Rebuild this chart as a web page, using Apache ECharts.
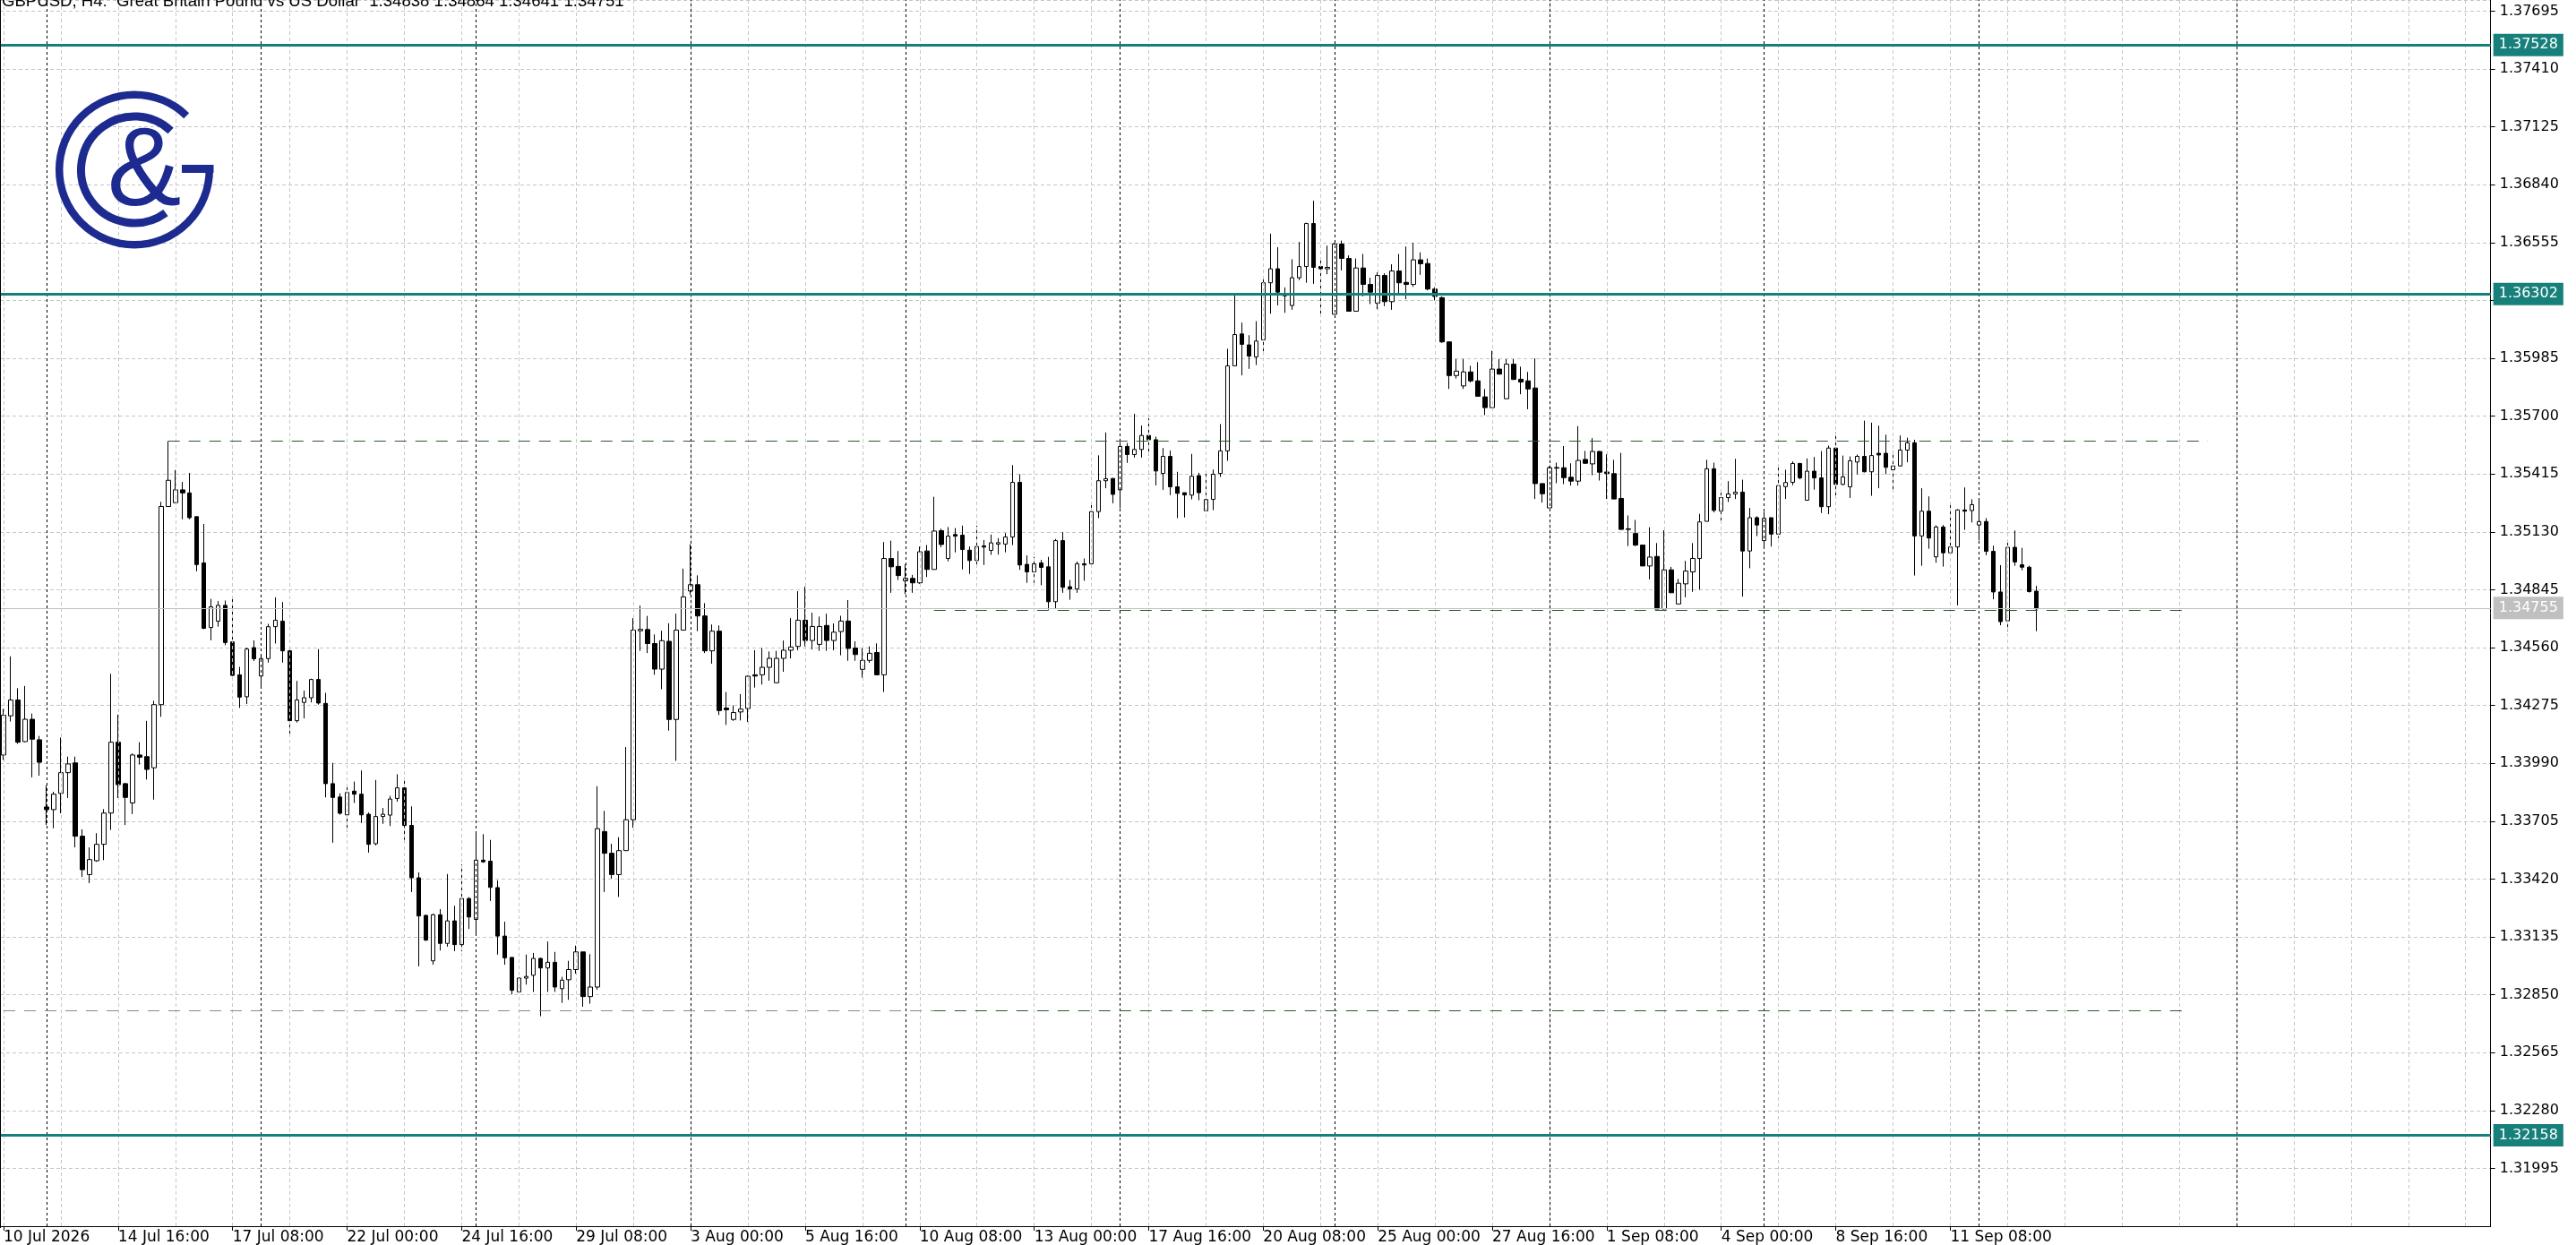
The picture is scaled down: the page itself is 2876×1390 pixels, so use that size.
<!DOCTYPE html>
<html><head><meta charset="utf-8">
<script src="https://cdn.jsdelivr.net/npm/echarts@6/dist/echarts.min.js"></script>
<style>html,body{margin:0;padding:0;background:#fff;overflow:hidden}#c{width:2876px;height:1390px}</style>
</head><body><div id="c"></div>
<script>
// ---- data (H4 bars, GBPUSD) ----
const opens = [
1.34031,1.34224,1.34302,1.34097,1.34207,1.34106,1.33775,1.33762,1.33842,1.33944,
1.33992,1.33631,1.33442,1.33510,1.33591,1.33745,1.34094,1.33890,1.33795,1.34031,
1.34023,1.33968,1.34279,1.35255,1.35274,1.35337,1.35322,1.35205,1.34977,1.34659,
1.34690,1.34768,1.34588,1.34426,1.34318,1.34560,1.34420,1.34506,1.34663,1.34690,
1.34544,1.34200,1.34290,1.34313,1.34403,1.34285,1.33890,1.33824,1.33736,1.33853,
1.33838,1.33739,1.33594,1.33728,1.33735,1.33817,1.33869,1.33684,1.33426,1.33241,
1.33017,1.33244,1.33103,1.33214,1.33097,1.33324,1.33221,1.33513,1.33508,1.33378,
1.33139,1.33034,1.32864,1.32932,1.32946,1.33029,1.32982,1.33010,1.32880,1.32924,
1.32974,1.33061,1.32841,1.32888,1.33654,1.33547,1.33442,1.33560,1.33712,1.34643,
1.34649,1.34580,1.34454,1.34591,1.34206,1.34646,1.34839,1.34870,1.34716,1.34544,
1.34641,1.34262,1.34206,1.34243,1.34260,1.34426,1.34426,1.34463,1.34387,1.34507,
1.34547,1.34566,1.34695,1.34595,1.34576,1.34669,1.34595,1.34639,1.34691,1.34558,
1.34453,1.34497,1.34536,1.34426,1.34999,1.34960,1.34889,1.34901,1.34879,1.35036,
1.34945,1.35136,1.34999,1.35117,1.35114,1.35040,1.34989,1.35061,1.35039,1.35070,
1.35070,1.35105,1.35374,1.34970,1.34933,1.34977,1.34958,1.34786,1.35087,1.34860,
1.34849,1.34973,1.34973,1.35230,1.35382,1.35393,1.35337,1.35551,1.35511,1.35536,
1.35605,1.35584,1.35418,1.35502,1.35352,1.35323,1.35311,1.35407,1.35234,1.35290,
1.35418,1.35529,1.35948,1.36105,1.36051,1.35992,1.36076,1.36357,1.36426,1.36301,
1.36245,1.36382,1.36437,1.36649,1.36437,1.36426,1.36202,1.36548,1.36477,1.36217,
1.36430,1.36349,1.36257,1.36393,1.36264,1.36415,1.36359,1.36349,1.36470,1.36452,
1.36326,1.36284,1.36066,1.35900,1.35849,1.35918,1.35874,1.35795,1.35742,1.35932,
1.35786,1.35956,1.35882,1.35874,1.35839,1.35368,1.35248,1.35447,1.35446,1.35399,
1.35380,1.35487,1.35465,1.35526,1.35425,1.35417,1.35295,1.35145,1.35122,1.35065,
1.34962,1.35009,1.34750,1.34943,1.34775,1.34874,1.34933,1.34999,1.35182,1.35441,
1.35233,1.35299,1.35317,1.35326,1.35036,1.35200,1.35087,1.35200,1.35119,1.35353,
1.35374,1.35467,1.35286,1.35429,1.35396,1.35254,1.35543,1.35364,1.35352,1.35474,
1.35502,1.35426,1.35517,1.35517,1.35436,1.35455,1.35533,1.35569,1.35110,1.35232,
1.35007,1.35154,1.35027,1.35056,1.35238,1.35235,1.35164,1.35181,1.35034,1.34834,
1.34692,1.35054,1.34968,1.34956,1.34838];
const highs = [
1.34258,1.34517,1.34360,1.34371,1.34235,1.34125,1.33882,1.33850,1.34117,1.34023,
1.34023,1.33665,1.33576,1.33646,1.33764,1.34431,1.34230,1.33893,1.34039,1.34094,
1.34199,1.34298,1.35278,1.35577,1.35435,1.35376,1.35420,1.35205,1.35169,1.34800,
1.34789,1.34792,1.34803,1.34465,1.34560,1.34596,1.34517,1.34677,1.34808,1.34784,
1.34549,1.34396,1.34348,1.34407,1.34553,1.34337,1.33992,1.33842,1.33874,1.33900,
1.33955,1.33748,1.33908,1.33770,1.33830,1.33936,1.33908,1.33778,1.33453,1.33244,
1.33249,1.33272,1.33445,1.33288,1.33492,1.33331,1.33644,1.33641,1.33613,1.33414,
1.33210,1.33034,1.32935,1.33048,1.33056,1.33032,1.33112,1.33061,1.32938,1.33017,
1.33092,1.33061,1.33050,1.33877,1.33756,1.33594,1.33626,1.34070,1.34705,1.34767,
1.34716,1.34625,1.34643,1.34680,1.34727,1.34949,1.35069,1.34916,1.34779,1.34674,
1.34669,1.34341,1.34275,1.34331,1.34423,1.34547,1.34558,1.34541,1.34544,1.34595,
1.34705,1.34838,1.34860,1.34732,1.34713,1.34727,1.34679,1.34717,1.34794,1.34591,
1.34556,1.34566,1.34581,1.35080,1.35087,1.35036,1.34970,1.34918,1.35058,1.35065,
1.35303,1.35146,1.35154,1.35149,1.35161,1.35058,1.35161,1.35090,1.35117,1.35099,
1.35124,1.35459,1.35414,1.35014,1.35007,1.34992,1.35007,1.35095,1.35129,1.34893,
1.34984,1.34999,1.35276,1.35507,1.35620,1.35396,1.35573,1.35568,1.35712,1.35654,
1.35690,1.35599,1.35543,1.35531,1.35426,1.35323,1.35514,1.35421,1.35418,1.35437,
1.35661,1.36032,1.36304,1.36161,1.36099,1.36168,1.36374,1.36599,1.36532,1.36334,
1.36473,1.36558,1.36653,1.36761,1.36473,1.36540,1.36555,1.36565,1.36492,1.36477,
1.36499,1.36382,1.36408,1.36404,1.36448,1.36499,1.36536,1.36554,1.36507,1.36477,
1.36335,1.36290,1.36069,1.35981,1.35981,1.35948,1.35966,1.35834,1.36022,1.35981,
1.35981,1.35981,1.35944,1.35918,1.35985,1.35368,1.35453,1.35471,1.35553,1.35468,
1.35651,1.35529,1.35592,1.35529,1.35512,1.35485,1.35519,1.35211,1.35189,1.35065,
1.35153,1.35075,1.35138,1.34958,1.34899,1.34987,1.35075,1.35219,1.35485,1.35471,
1.35336,1.35380,1.35490,1.35387,1.35248,1.35207,1.35229,1.35200,1.35446,1.35436,
1.35477,1.35470,1.35492,1.35499,1.35528,1.35555,1.35621,1.35506,1.35502,1.35511,
1.35678,1.35668,1.35653,1.35609,1.35528,1.35605,1.35594,1.35584,1.35345,1.35305,
1.35162,1.35164,1.35264,1.35242,1.35349,1.35291,1.35286,1.35198,1.35062,1.34966,
1.35091,1.35137,1.35051,1.34963,1.34864];
const lows = [
1.34007,1.34196,1.34086,1.34094,1.33921,1.33929,1.33686,1.33670,1.33744,1.33819,
1.33576,1.33430,1.33400,1.33505,1.33513,1.33662,1.33819,1.33686,1.33740,1.33984,
1.33910,1.33811,1.34219,1.35255,1.35271,1.35192,1.35192,1.34936,1.34651,1.34596,
1.34663,1.34572,1.34420,1.34263,1.34282,1.34494,1.34371,1.34486,1.34580,1.34486,
1.34125,1.34191,1.34211,1.34290,1.34279,1.33822,1.33599,1.33737,1.33654,1.33795,
1.33696,1.33550,1.33586,1.33692,1.33681,1.33801,1.33613,1.33356,1.32990,1.33116,
1.32998,1.33068,1.33087,1.33065,1.33064,1.33174,1.33142,1.33500,1.33312,1.33048,
1.32998,1.32852,1.32860,1.32900,1.32864,1.32744,1.32864,1.32864,1.32810,1.32825,
1.32954,1.32791,1.32806,1.32875,1.33356,1.33422,1.33332,1.33560,1.33673,1.34544,
1.34533,1.34426,1.34355,1.34151,1.34002,1.34646,1.34821,1.34641,1.34533,1.34481,
1.34228,1.34179,1.34199,1.34201,1.34194,1.34363,1.34378,1.34397,1.34385,1.34441,
1.34507,1.34547,1.34566,1.34551,1.34544,1.34544,1.34547,1.34522,1.34495,1.34495,
1.34412,1.34485,1.34426,1.34341,1.34830,1.34893,1.34823,1.34830,1.34874,1.34908,
1.34945,1.35054,1.34985,1.35029,1.34945,1.34923,1.34967,1.34967,1.35017,1.35018,
1.35029,1.35065,1.34943,1.34879,1.34879,1.34867,1.34747,1.34750,1.34830,1.34796,
1.34830,1.34889,1.34960,1.35198,1.35345,1.35271,1.35246,1.35470,1.35496,1.35496,
1.35507,1.35359,1.35337,1.35311,1.35198,1.35201,1.35290,1.35286,1.35231,1.35237,
1.35401,1.35480,1.35948,1.35901,1.35933,1.35952,1.36002,1.36205,1.36246,1.36209,
1.36224,1.36370,1.36357,1.36352,1.36190,1.36399,1.36202,1.36418,1.36217,1.36217,
1.36290,1.36252,1.36227,1.36242,1.36224,1.36301,1.36276,1.36337,1.36396,1.36320,
1.36270,1.36061,1.35834,1.35885,1.35834,1.35866,1.35798,1.35705,1.35742,1.35907,
1.35786,1.35878,1.35808,1.35734,1.35292,1.35274,1.35248,1.35370,1.35365,1.35358,
1.35358,1.35465,1.35409,1.35383,1.35292,1.35292,1.35142,1.35060,1.35060,1.34962,
1.34896,1.34750,1.34750,1.34830,1.34775,1.34808,1.34835,1.34845,1.35182,1.35226,
1.35186,1.35277,1.35292,1.34811,1.34951,1.35109,1.35053,1.35058,1.35099,1.35292,
1.35360,1.35389,1.35286,1.35338,1.35223,1.35217,1.35305,1.35360,1.35297,1.35414,
1.35423,1.35308,1.35345,1.35414,1.35341,1.35452,1.35473,1.34915,1.34963,1.35047,
1.34978,1.34959,1.35019,1.34768,1.35140,1.35176,1.35088,1.35015,1.34798,1.34670,
1.34641,1.34963,1.34941,1.34831,1.34641];
const closes = [
1.34227,1.34302,1.34094,1.34207,1.34109,1.33995,1.33762,1.33838,1.33944,1.33987,
1.33631,1.33466,1.33516,1.33591,1.33745,1.34094,1.33885,1.33822,1.34031,1.34020,
1.33960,1.34279,1.35255,1.35384,1.35337,1.35322,1.35200,1.34969,1.34655,1.34761,
1.34768,1.34585,1.34423,1.34316,1.34553,1.34505,1.34506,1.34663,1.34695,1.34544,
1.34200,1.34302,1.34313,1.34403,1.34287,1.33890,1.33822,1.33744,1.33846,1.33838,
1.33736,1.33591,1.33728,1.33739,1.33814,1.33869,1.33684,1.33426,1.33238,1.33119,
1.33244,1.33103,1.33214,1.33097,1.33324,1.33233,1.33513,1.33505,1.33379,1.33139,
1.33032,1.32872,1.32932,1.32940,1.33029,1.32982,1.33010,1.32888,1.32922,1.32974,
1.33061,1.32841,1.32888,1.33668,1.33547,1.33442,1.33560,1.33712,1.34646,1.34650,
1.34580,1.34454,1.34594,1.34206,1.34646,1.34810,1.34870,1.34716,1.34544,1.34641,
1.34250,1.34254,1.34240,1.34257,1.34419,1.34420,1.34463,1.34507,1.34507,1.34547,
1.34563,1.34695,1.34595,1.34664,1.34664,1.34595,1.34636,1.34691,1.34556,1.34526,
1.34497,1.34532,1.34426,1.34999,1.34958,1.34915,1.34901,1.34879,1.35032,1.34945,
1.35134,1.35068,1.35109,1.35109,1.35043,1.34989,1.35058,1.35055,1.35076,1.35077,
1.35105,1.35374,1.34967,1.34933,1.34973,1.34955,1.34786,1.35087,1.34857,1.34849,
1.34973,1.34967,1.35230,1.35382,1.35392,1.35315,1.35551,1.35511,1.35536,1.35605,
1.35584,1.35430,1.35502,1.35352,1.35320,1.35312,1.35404,1.35323,1.35289,1.35414,
1.35529,1.35948,1.36102,1.36054,1.35996,1.36070,1.36357,1.36426,1.36311,1.36293,
1.36382,1.36437,1.36649,1.36433,1.36426,1.36433,1.36548,1.36477,1.36217,1.36430,
1.36349,1.36311,1.36393,1.36264,1.36415,1.36357,1.36349,1.36470,1.36451,1.36326,
1.36290,1.36066,1.35900,1.35922,1.35918,1.35874,1.35798,1.35742,1.35932,1.35907,
1.35956,1.35881,1.35868,1.35834,1.35368,1.35318,1.35446,1.35444,1.35397,1.35380,
1.35482,1.35468,1.35526,1.35424,1.35417,1.35292,1.35142,1.35142,1.35065,1.34962,
1.35006,1.34750,1.34943,1.34830,1.34877,1.34937,1.34999,1.35179,1.35441,1.35236,
1.35299,1.35317,1.35326,1.35036,1.35200,1.35164,1.35197,1.35119,1.35358,1.35373,
1.35467,1.35396,1.35429,1.35396,1.35254,1.35543,1.35364,1.35401,1.35480,1.35502,
1.35426,1.35506,1.35509,1.35448,1.35455,1.35533,1.35569,1.35110,1.35232,1.35100,
1.35154,1.35027,1.35056,1.35238,1.35232,1.35264,1.35181,1.35034,1.34834,1.34688,
1.35054,1.34982,1.34956,1.34836,1.34751];

const timeLabels = ['10 Jul 2026','14 Jul 16:00','17 Jul 08:00','22 Jul 00:00','24 Jul 16:00','29 Jul 08:00',
  '3 Aug 00:00','5 Aug 16:00','10 Aug 08:00','13 Aug 00:00','17 Aug 16:00','20 Aug 08:00',
  '25 Aug 00:00','27 Aug 16:00','1 Sep 08:00','4 Sep 00:00','8 Sep 16:00','11 Sep 08:00'];
const barsPerLabel = 16;
const slotCount = 348;           // bars + empty right margin
const gridEvery = 8;             // light vertical grid every 8 bars
const weekStarts = [6,36,66,96,126,156,186,216,246,276,312];
const priceMin = 1.3171, priceMax = 1.3775, priceStep = 0.00285;
const levels = [1.37528, 1.36302, 1.32158];
const bidPrice = 1.34755;
const zoneLines = [
  {from: 23, to: 308, price: 1.35578, kind: 'green'},
  {from: 130, to: 305, price: 1.34746, kind: 'green'},
  {from: 0, to: 130, price: 1.32770, kind: 'grey'},
  {from: 130, to: 305, price: 1.32770, kind: 'green'}
];
const titleText = 'GBPUSD, H4:  Great Britain Pound vs US Dollar  1.34838 1.34864 1.34641 1.34751';

// ---- build ----
const slots = Array.from({length: slotCount}, (_, i) => String(i));
const candles = opens.map((o, i) => [o, closes[i], lows[i], highs[i]]);
const TEAL = '#17807b', GRID = '#c6c6c6', GREEN = '#2a5a2a', NAVY = '#1d2a8f';
const AX_FONT = 'DejaVu Sans';

const gridMarks = [];
for (let i = 0; i < slotCount; i += gridEvery) gridMarks.push({xAxis: i, lineStyle: {color: GRID, type: [4, 3], width: 1}});
weekStarts.forEach(i => gridMarks.push({xAxis: i, lineStyle: {color: '#000', type: [3, 3], width: 1}}));
gridMarks.push({yAxis: bidPrice, lineStyle: {color: '#c0c0c0', type: 'solid', width: 1},
  label: {show: true, position: 'end', distance: 3, formatter: bidPrice.toFixed(5), color: '#fff',
          backgroundColor: '#c0c0c0', padding: [5, 6, 4, 6], fontSize: 16, fontFamily: AX_FONT}});

const topMarks = [];
levels.forEach(p => topMarks.push({yAxis: p, lineStyle: {color: TEAL, type: 'solid', width: 3},
  label: {show: true, position: 'end', distance: 3, formatter: p.toFixed(5), color: '#fff',
          backgroundColor: TEAL, padding: [5, 6, 4, 6], fontSize: 16, fontFamily: AX_FONT}}));
zoneLines.forEach(z => topMarks.push([
  {coord: [z.from, z.price], lineStyle: {color: z.kind === 'green' ? GREEN : '#8a8a8a', type: [13, 10], width: 1.2}},
  {coord: [z.to, z.price]}
]));

const chart = echarts.init(document.getElementById('c'), null, {renderer: 'canvas'});
chart.setOption({
  animation: false,
  backgroundColor: '#ffffff',
  grid: {left: -3.3, top: 0, width: 2784, height: 1371, containLabel: false},
  xAxis: {
    type: 'category', data: slots, boundaryGap: true,
    axisLine: {show: true, lineStyle: {color: '#000', width: 1}},
    axisTick: {show: true, alignWithLabel: true, length: 5, lineStyle: {color: '#000'},
      interval: (idx) => idx % barsPerLabel === 0 && idx / barsPerLabel < timeLabels.length},
    axisLabel: {interval: (idx) => idx % barsPerLabel === 0 && idx / barsPerLabel < timeLabels.length,
      align: 'left', margin: 4, color: '#000', fontSize: 17, fontFamily: AX_FONT,
      formatter: (v, idx) => timeLabels[Math.round(idx / barsPerLabel)] || ''},
    splitLine: {show: false}
  },
  yAxis: {
    type: 'value', position: 'right', min: priceMin, max: priceMax, interval: priceStep,
    axisLine: {show: true, lineStyle: {color: '#000', width: 1}},
    axisTick: {show: true, length: 5, lineStyle: {color: '#000'}},
    axisLabel: {showMinLabel: false, showMaxLabel: false, margin: 10, color: '#000', fontSize: 16,
      fontFamily: AX_FONT, formatter: v => v.toFixed(5)},
    splitLine: {show: true, lineStyle: {color: GRID, type: [4, 3], width: 1}}
  },
  series: [
    {type: 'line', data: [], z: 1, silent: true,
     markLine: {silent: true, precision: 5, symbol: ['none', 'none'], label: {show: false}, data: gridMarks, animation: false}},
    {type: 'candlestick', data: candles, z: 3, barWidth: 5, silent: true,
     itemStyle: {color: '#ffffff', color0: '#000000', borderColor: '#000000', borderColor0: '#000000', borderWidth: 1}},
    {type: 'line', data: [], z: 5, silent: true,
     markLine: {silent: true, precision: 5, symbol: ['none', 'none'], label: {show: false}, data: topMarks, animation: false}}
  ],
  graphic: [
    {type: 'line', z: 20, shape: {x1: 0.5, y1: 0, x2: 0.5, y2: 1371}, style: {stroke: '#000', lineWidth: 1}},
    {type: 'text', z: 20, x: 2, y: 2, style: {text: titleText, fill: '#000', fontSize: 18.6,
      fontFamily: 'Liberation Sans', verticalAlign: 'middle'}},
    {type: 'arc', z: 20, shape: {cx: 150, cy: 189.5, r: 83.8, startAngle: 0, endAngle: 314 * Math.PI / 180, clockwise: true},
      style: {stroke: NAVY, lineWidth: 8.5, fill: null}},
    {type: 'rect', z: 20, shape: {x: 203, y: 184, width: 35.5, height: 9}, style: {fill: NAVY}},
    {type: 'arc', z: 20, shape: {cx: 150, cy: 189.5, r: 59.5, startAngle: 54 * Math.PI / 180, endAngle: 313 * Math.PI / 180, clockwise: true},
      style: {stroke: NAVY, lineWidth: 9, fill: null}},
    {type: 'text', z: 20, x: 161, y: 195, style: {text: '&', fill: NAVY, fontSize: 124, fontFamily: 'Liberation Sans',
      align: 'center', verticalAlign: 'middle'}}
  ]
});
</script></body></html>
